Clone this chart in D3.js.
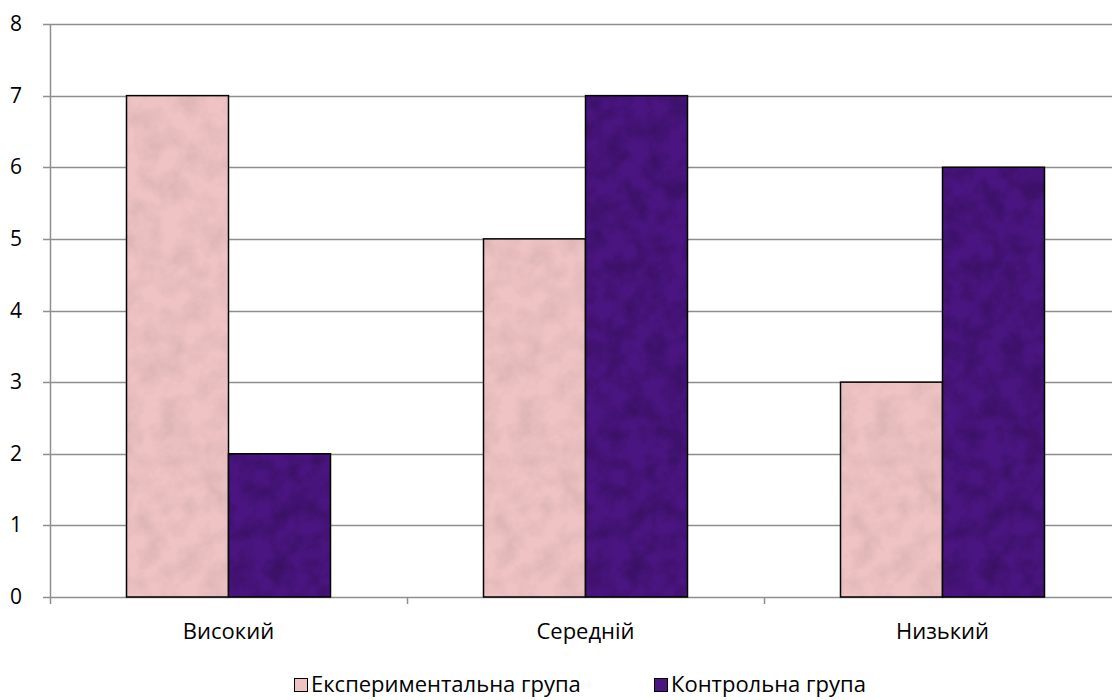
<!DOCTYPE html>
<html>
<head>
<meta charset="utf-8">
<script src="https://cdn.jsdelivr.net/npm/d3@7"></script>
<style>
  html, body { margin: 0; padding: 0; background: #fff; }
  svg { display: block; font-family: "Open Sans", "Noto Sans", sans-serif; }
</style>
</head>
<body>
<svg id="chart" width="1112" height="700"></svg>
<script>
// Рівні сформованості за групами
const categories = ["Високий", "Середній", "Низький"];
const seriesNames = ["Експериментальна група", "Контрольна група"];
const experimental = [7, 5, 3];
const control = [2, 7, 6];
const yTicks = [0, 1, 2, 3, 4, 5, 6, 7, 8];

const seriesColors = ["#efc3c4", "#4a1580"];
const seriesValues = [experimental, control];

const svg = d3.select("#chart");
const plot = { left: 50, right: 1121, top: 24, bottom: 597 };

const y = d3.scaleLinear().domain([0, 8]).range([plot.bottom, plot.top]);
const x0 = d3.scaleBand().domain(categories).range([plot.left, plot.right]).padding(0);
const x1 = d3.scaleBand().domain(seriesNames).range([0, x0.bandwidth()])
  .paddingInner(0).paddingOuter(0.75);

// Marble-like texture for bar fills
const defs = svg.append("defs");
function marble(id, strength, seed, freq) {
  const f = defs.append("filter").attr("id", id)
    .attr("x", 0).attr("y", 0).attr("width", 1).attr("height", 1)
    .attr("color-interpolation-filters", "sRGB");
  f.append("feTurbulence").attr("type", "fractalNoise")
    .attr("baseFrequency", freq).attr("numOctaves", 4).attr("seed", seed).attr("result", "noise");
  f.append("feColorMatrix").attr("in", "noise").attr("type", "matrix")
    .attr("values", `0 0 0 0 0  0 0 0 0 0  0 0 0 0 0  ${strength} 0 0 0 ${-strength * 0.35}`)
    .attr("result", "shade");
  f.append("feComposite").attr("in", "shade").attr("in2", "SourceGraphic")
    .attr("operator", "in").attr("result", "shadeClip");
  const m = f.append("feMerge");
  m.append("feMergeNode").attr("in", "SourceGraphic");
  m.append("feMergeNode").attr("in", "shadeClip");
}
marble("marble0", 0.14, 4, 0.045);
marble("marble1", 0.4, 9, 0.05);

// Horizontal gridlines and left ticks
svg.append("g").selectAll("line").data(yTicks).join("line")
  .attr("x1", plot.left - 7).attr("x2", 1112)
  .attr("y1", d => Math.round(y(d)) + 0.5).attr("y2", d => Math.round(y(d)) + 0.5)
  .attr("stroke", "#8e8e8e").attr("stroke-width", 1.5);

// Y axis line
svg.append("line")
  .attr("x1", plot.left + 0.5).attr("x2", plot.left + 0.5)
  .attr("y1", plot.top).attr("y2", plot.bottom + 7)
  .attr("stroke", "#8e8e8e").attr("stroke-width", 1.5);

// Category separator ticks
svg.append("g").selectAll("line").data(categories.slice(1)).join("line")
  .attr("x1", d => Math.round(x0(d)) + 0.5).attr("x2", d => Math.round(x0(d)) + 0.5)
  .attr("y1", plot.bottom).attr("y2", plot.bottom + 7)
  .attr("stroke", "#8e8e8e").attr("stroke-width", 1.5);

// Y tick labels
svg.append("g").selectAll("text").data(yTicks).join("text")
  .attr("x", 22).attr("y", d => y(d) + 7)
  .attr("text-anchor", "end")
  .attr("font-size", 21).attr("fill", "#000")
  .text(d => d);

// Bars
const groups = svg.append("g").selectAll("g").data(categories).join("g")
  .attr("transform", d => `translate(${x0(d)},0)`);

groups.each(function (cat, ci) {
  const g = d3.select(this);
  seriesNames.forEach((s, si) => {
    const v = seriesValues[si][ci];
    g.append("rect")
      .attr("x", x1(s)).attr("y", y(v))
      .attr("width", x1.bandwidth()).attr("height", y(0) - y(v))
      .attr("fill", seriesColors[si])
      .attr("filter", `url(#marble${si})`);
    g.append("rect")
      .attr("x", x1(s)).attr("y", y(v))
      .attr("width", x1.bandwidth()).attr("height", y(0) - y(v))
      .attr("fill", "none").attr("stroke", "#000").attr("stroke-width", 1.5);
  });
});

// Category labels
svg.append("g").selectAll("text").data(categories).join("text")
  .attr("x", d => x0(d) + x1(seriesNames[1]))
  .attr("y", 639)
  .attr("text-anchor", "middle")
  .attr("font-size", 22).attr("fill", "#000")
  .text(d => d);

// Legend
const legendItems = [
  { name: seriesNames[0], color: seriesColors[0], x: 294 },
  { name: seriesNames[1], color: seriesColors[1], x: 654 }
];
const lg = svg.append("g").selectAll("g").data(legendItems).join("g")
  .attr("transform", d => `translate(${d.x},0)`);
lg.append("rect")
  .attr("x", 0.5).attr("y", 678.5).attr("width", 13).attr("height", 13)
  .attr("fill", d => d.color).attr("stroke", "#000").attr("stroke-width", 1);
lg.append("text")
  .attr("x", 17).attr("y", 692)
  .attr("font-size", 22).attr("fill", "#000")
  .text(d => d.name);
</script>
</body>
</html>
